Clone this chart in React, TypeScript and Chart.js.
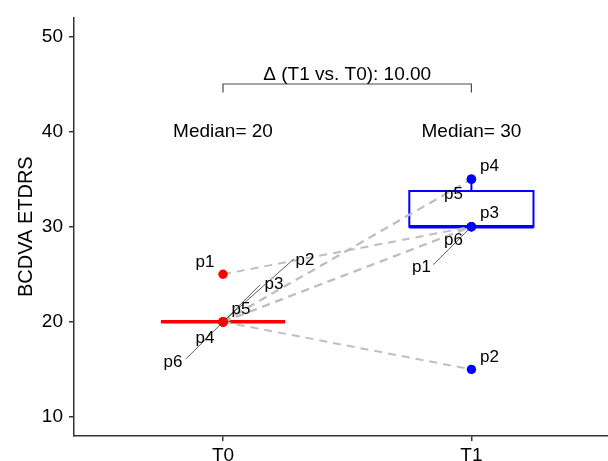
import { useEffect, useRef } from 'react';
import Chart from 'chart.js/auto';

// ---- data ----
const TIMEPOINTS = ['T0', 'T1'];
const PATIENTS = ['p1', 'p2', 'p3', 'p4', 'p5', 'p6'];
const VALUES_T0 = [25, 20, 20, 20, 20, 20];
const VALUES_T1 = [30, 15, 30, 35, 35, 30];
const Y_TICKS = [10, 20, 30, 40, 50];
const Y_TITLE = 'BCDVA ETDRS';
const MEDIAN_LABEL_Y = 40;
const BRACKET_Y = 45;
const DELTA_TEXT_Y = 46;

// ---- label layout (pixel offsets from each point, ggrepel-like) ----
const LABEL_OFFSETS_T0 = [[-18, -12], [82, -62], [51, -38], [-18, 16], [18, -13], [-50, 40]];
const SEGMENTS_T0 = [null, [71, -63], [37, -37], null, null, [-37, 37]];
const LABEL_OFFSETS_T1 = [[-50, 41], [18, -12], [18, -13], [18, -13], [-18, 15], [-18, 14]];
const SEGMENTS_T1 = [[-38, 38], null, null, null, null, null];

const FONT = '"Liberation Sans", Arial, Helvetica, sans-serif';
const GROUP_COLORS = ['#FF0000', '#0000FF'];

function quantile(arr: number[], p: number) {
  const s = [...arr].sort((a, b) => a - b);
  const h = (s.length - 1) * p;
  const lo = Math.floor(h);
  const hi = Math.ceil(h);
  return s[lo] + (h - lo) * (s[hi] - s[lo]);
}

function boxStats(arr: number[]) {
  const q1 = quantile(arr, 0.25);
  const med = quantile(arr, 0.5);
  const q3 = quantile(arr, 0.75);
  const iqr = q3 - q1;
  const up = Math.max(...arr.filter((v) => v <= q3 + 1.5 * iqr));
  const lo = Math.min(...arr.filter((v) => v >= q1 - 1.5 * iqr));
  return { q1, med, q3, up, lo };
}

const GROUPS = [VALUES_T0, VALUES_T1];

const pairedPlugin = {
  id: 'pairedPlugin',
  beforeDatasetsDraw(chart: any) {
    const { ctx, scales } = chart;
    const xs = scales.x;
    const ys = scales.y;
    GROUPS.forEach((vals, gi) => {
      const st = boxStats(vals);
      const xc = gi + 1;
      const xl = xs.getPixelForValue(xc - 0.25);
      const xr = xs.getPixelForValue(xc + 0.25);
      const xm = xs.getPixelForValue(xc);
      const yq1 = ys.getPixelForValue(st.q1);
      const yq3 = ys.getPixelForValue(st.q3);
      const ymed = ys.getPixelForValue(st.med);
      ctx.save();
      ctx.strokeStyle = GROUP_COLORS[gi];
      ctx.lineWidth = 2;
      // whiskers
      ctx.beginPath();
      ctx.moveTo(xm, yq3);
      ctx.lineTo(xm, ys.getPixelForValue(st.up));
      ctx.moveTo(xm, yq1);
      ctx.lineTo(xm, ys.getPixelForValue(st.lo));
      ctx.stroke();
      // box
      ctx.fillStyle = '#FFFFFF';
      ctx.fillRect(xl, yq3, xr - xl, yq1 - yq3);
      ctx.strokeRect(xl, yq3, xr - xl, yq1 - yq3);
      // median
      ctx.lineWidth = 3.5;
      ctx.beginPath();
      ctx.moveTo(xl, ymed);
      ctx.lineTo(xr, ymed);
      ctx.stroke();
      ctx.restore();
    });
  },
  afterDatasetsDraw(chart: any) {
    const { ctx, scales } = chart;
    const xs = scales.x;
    const ys = scales.y;
    ctx.save();
    // medians text
    ctx.fillStyle = '#000000';
    ctx.font = `19px ${FONT}`;
    ctx.textAlign = 'center';
    ctx.textBaseline = 'middle';
    const meds = GROUPS.map((g) => quantile(g, 0.5));
    GROUPS.forEach((g, gi) => {
      ctx.fillText(`Median= ${meds[gi]}`, xs.getPixelForValue(gi + 1), ys.getPixelForValue(MEDIAN_LABEL_Y));
    });
    // bracket
    const bx1 = xs.getPixelForValue(1);
    const bx2 = xs.getPixelForValue(2);
    const by = ys.getPixelForValue(BRACKET_Y);
    const byTip = ys.getPixelForValue(BRACKET_Y - 0.9);
    ctx.strokeStyle = '#4D4D4D';
    ctx.lineWidth = 1.2;
    ctx.beginPath();
    ctx.moveTo(bx1, byTip);
    ctx.lineTo(bx1, by);
    ctx.lineTo(bx2, by);
    ctx.lineTo(bx2, byTip);
    ctx.stroke();
    ctx.fillText(
      `\u0394 (${TIMEPOINTS[1]} vs. ${TIMEPOINTS[0]}): ${(meds[1] - meds[0]).toFixed(2)}`,
      xs.getPixelForValue(1.5),
      ys.getPixelForValue(DELTA_TEXT_Y)
    );
    // repel labels
    ctx.font = `17px ${FONT}`;
    const layouts = [
      [LABEL_OFFSETS_T0, SEGMENTS_T0],
      [LABEL_OFFSETS_T1, SEGMENTS_T1],
    ];
    GROUPS.forEach((vals, gi) => {
      const [offs, segs] = layouts[gi] as any;
      vals.forEach((v, i) => {
        const px = xs.getPixelForValue(gi + 1);
        const py = ys.getPixelForValue(v);
        const seg = segs[i];
        if (seg) {
          const len = Math.hypot(seg[0], seg[1]);
          ctx.strokeStyle = '#333333';
          ctx.lineWidth = 0.8;
          ctx.beginPath();
          ctx.moveTo(px + (seg[0] / len) * 4, py + (seg[1] / len) * 4);
          ctx.lineTo(px + seg[0], py + seg[1]);
          ctx.stroke();
        }
        ctx.fillStyle = '#000000';
        ctx.fillText(PATIENTS[i], px + offs[i][0], py + offs[i][1]);
      });
    });
    ctx.restore();
  },
};

export default function App() {
  const ref = useRef<HTMLCanvasElement | null>(null);
  useEffect(() => {
    if (!ref.current) return;
    const lineSets = PATIENTS.map((p, i) => ({
      label: p,
      data: [
        { x: 1, y: VALUES_T0[i] },
        { x: 2, y: VALUES_T1[i] },
      ],
      showLine: true,
      borderColor: '#BFBFBF',
      borderWidth: 2,
      borderDash: [8, 6],
      pointRadius: 0,
      order: 2,
    }));
    const pointSets = GROUPS.map((vals, gi) => ({
      label: TIMEPOINTS[gi],
      data: vals.map((v) => ({ x: gi + 1, y: v })),
      showLine: false,
      pointRadius: 4.7,
      pointBackgroundColor: GROUP_COLORS[gi],
      pointBorderColor: GROUP_COLORS[gi],
      pointBorderWidth: 0,
      order: 0,
    }));
    const chart = new Chart(ref.current, {
      type: 'scatter',
      data: { datasets: [...pointSets, ...lineSets] as any },
      options: {
        animation: false,
        responsive: false,
        devicePixelRatio: 1,
        layout: { autoPadding: false, padding: { top: 12, left: 0, right: 0, bottom: 0 } },
        plugins: { legend: { display: false }, tooltip: { enabled: false } },
        scales: {
          x: {
            type: 'linear',
            min: 0.4,
            max: 2.55,
            afterBuildTicks: (s: any) => {
              s.ticks = TIMEPOINTS.map((_, i) => ({ value: i + 1 }));
            },
            afterFit: (s: any) => {
              s.height = 25;
            },
            ticks: {
              callback: (v: any) => TIMEPOINTS[Number(v) - 1] ?? '',
              font: { family: FONT, size: 19 },
              color: '#000000',
              padding: 3,
              maxRotation: 0,
              autoSkip: false,
            },
            grid: { display: true, drawOnChartArea: false, drawTicks: true, tickLength: 5, color: '#333333', lineWidth: 1.5 },
            border: { display: true, color: '#333333', width: 1.5 },
          },
          y: {
            type: 'linear',
            min: 8,
            max: 52,
            afterBuildTicks: (s: any) => {
              s.ticks = Y_TICKS.map((v) => ({ value: v }));
            },
            afterFit: (s: any) => {
              s.width = 74;
            },
            ticks: {
              font: { family: FONT, size: 19 },
              color: '#000000',
              padding: 6,
              autoSkip: false,
            },
            title: {
              display: true,
              text: Y_TITLE,
              font: { family: FONT, size: 20 },
              color: '#000000',
              padding: { top: 14, bottom: 0 },
            },
            grid: { display: true, drawOnChartArea: false, drawTicks: true, tickLength: 5, color: '#333333', lineWidth: 1.5 },
            border: { display: true, color: '#333333', width: 1.5 },
          },
        },
      },
      plugins: [pairedPlugin],
    });
    return () => chart.destroy();
  }, []);
  return (
    <div style={{ position: 'fixed', left: 0, top: 0, width: 608, height: 461, background: '#fff' }}>
      <canvas ref={ref} width={608} height={461} />
    </div>
  );
}
